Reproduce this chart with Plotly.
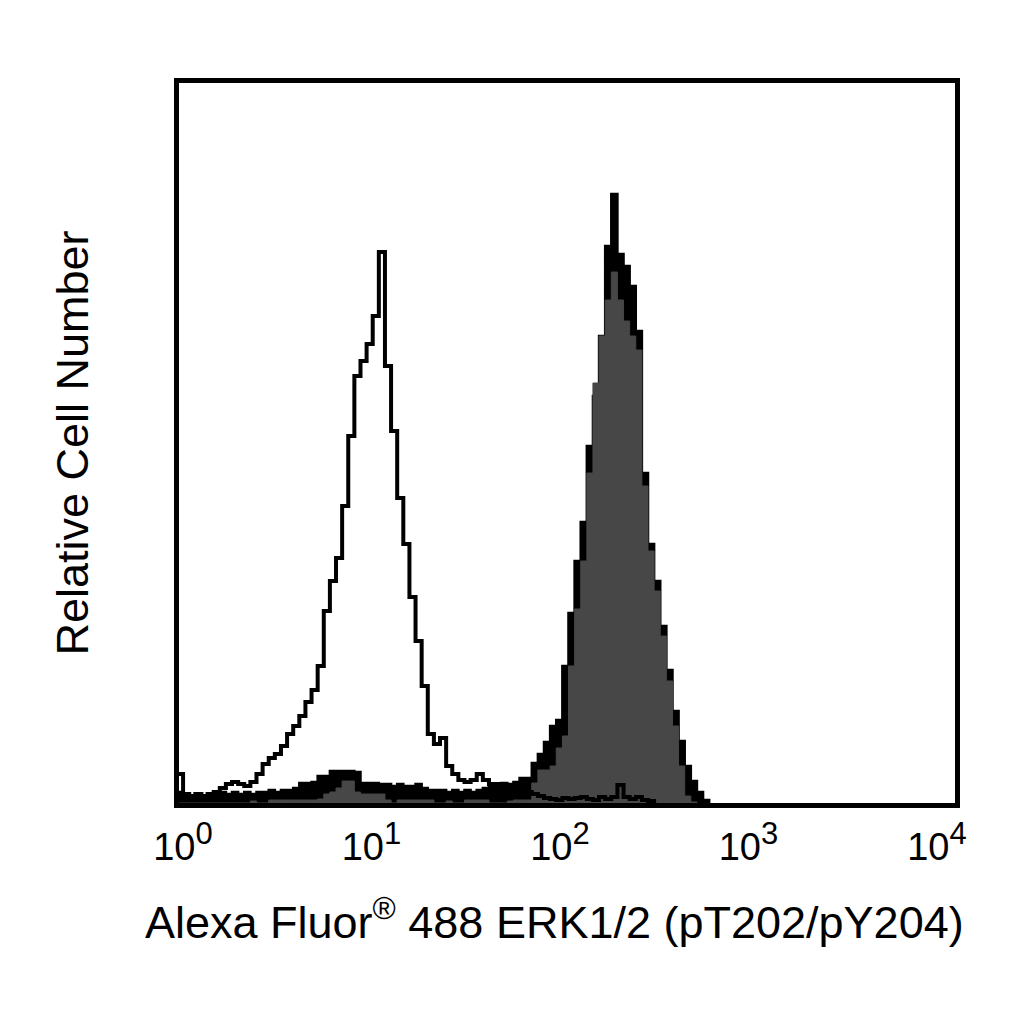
import numpy as np
import plotly.graph_objects as go

# 128 equal channels across the log display (decades)
N_CHANNELS = 128
LOG_MIN, LOG_MAX = -0.032, 4.122

# unstained / control sample (open histogram), counts per channel
open_counts = [
    29, 9, 7, 9, 7, 9, 11, 15, 19, 21, 19, 17, 21, 29, 39, 45,
    49, 57, 69, 77, 87, 101, 113, 137, 192, 222, 245, 297, 367, 427, 442, 459,
    487, 551, 437, 372, 305, 259, 206, 162, 117, 69, 59, 65, 37, 29, 23, 21,
    23, 29, 23, 19, 19, 17, 15, 15, 13, 11, 9, 7, 5, 4, 3, 5,
    4, 5, 6, 4, 3, 6, 4, 6, 18, 6, 4, 6, 3, 2, 0,
]

# stimulated sample, outer (black) envelope
stim_outline = [
    11, 7, 7, 9, 7, 9, 9, 11, 9, 11, 9, 11, 9, 11, 11, 13,
    11, 13, 13, 15, 20, 20, 21, 27, 27, 32, 32, 32, 32, 31, 20, 20,
    20, 19, 19, 17, 19, 17, 17, 19, 15, 13, 13, 13, 11, 13, 11, 13,
    11, 13, 15, 17, 19, 20, 19, 21, 25, 25, 40, 49, 61, 77, 83, 137,
    190, 242, 281, 357, 407, 467, 557, 609, 549, 537, 517, 472, 330, 259, 222, 177,
    133, 92, 62, 37, 22, 11, 3, 0,
]

# stimulated sample, filled (grey) histogram
stim_fill = [
    0, 0, 0, 0, 0, 0, 0, 0, 0, 0, 0, 0, 2, 0, 0, 3,
    3, 3, 3, 3, 3, 3, 3, 4, 9, 11, 15, 22, 22, 11, 9, 9,
    9, 9, 3, 0, 3, 3, 3, 3, 3, 3, 0, 0, 2, 0, 0, 3,
    3, 3, 3, 0, 0, 0, 2, 3, 3, 3, 20, 33, 33, 37, 55, 67,
    137, 194, 242, 330, 420, 467, 503, 531, 503, 482, 467, 453, 317, 252, 212, 167,
    122, 77, 37, 7, 1, 0,
]

tick_vals = [1, 10, 100, 1000, 10000]
tick_exp = ["0", "1", "2", "3", "4"]
tick_text = [f"10<sup><span style='font-size:31px'>{e}</span></sup>" for e in tick_exp]

FONT = "Liberation Sans, Arial, Helvetica, sans-serif"
GREY = "#474747"

edges = np.linspace(LOG_MIN, LOG_MAX, N_CHANNELS + 1)


def channel_x(counts):
    return 10 ** edges[:len(counts)]


fig = go.Figure()

fig.add_trace(go.Scatter(
    x=channel_x(stim_outline), y=stim_outline, mode="lines", line_shape="hv",
    line=dict(color="black", width=2.5), fill="tozeroy", fillcolor="black",
    name="stimulated (outline)",
))
fig.add_trace(go.Scatter(
    x=channel_x(stim_fill), y=stim_fill, mode="lines", line_shape="hv",
    line=dict(color=GREY, width=1), fill="tozeroy", fillcolor=GREY,
    name="stimulated",
))
fig.add_trace(go.Scatter(
    x=channel_x(open_counts), y=open_counts, mode="lines", line_shape="hv",
    line=dict(color="black", width=4),
    name="control",
))

fig.update_layout(
    width=1008, height=1008,
    margin=dict(l=171, r=61, t=75, b=213),
    paper_bgcolor="white", plot_bgcolor="white",
    showlegend=False,
    font=dict(family=FONT, color="black"),
    annotations=[dict(
        text="Alexa Fluor<sup>®</sup> 488 ERK1/2 (pT202/pY204)",
        xref="paper", yref="paper", x=0.4845, y=-0.118,
        xanchor="center", yanchor="top", showarrow=False,
        font=dict(size=45, family=FONT, color="black"),
    )],
)
fig.update_xaxes(
    type="log", range=[-0.0212, 4.0955],
    tickvals=tick_vals, ticktext=tick_text, ticks="",
    tickfont=dict(size=38, family=FONT, color="black"),
    ticklabelstandoff=6,
    showgrid=False, zeroline=False,
    showline=True, mirror=True, linecolor="black", linewidth=5,
)
fig.update_yaxes(
    range=[0, 720], showticklabels=False, ticks="",
    showgrid=False, zeroline=False,
    showline=True, mirror=True, linecolor="black", linewidth=5,
    title=dict(text="Relative Cell Number",
               font=dict(size=45, family=FONT, color="black"), standoff=73),
)

fig.write_html("out.html")
